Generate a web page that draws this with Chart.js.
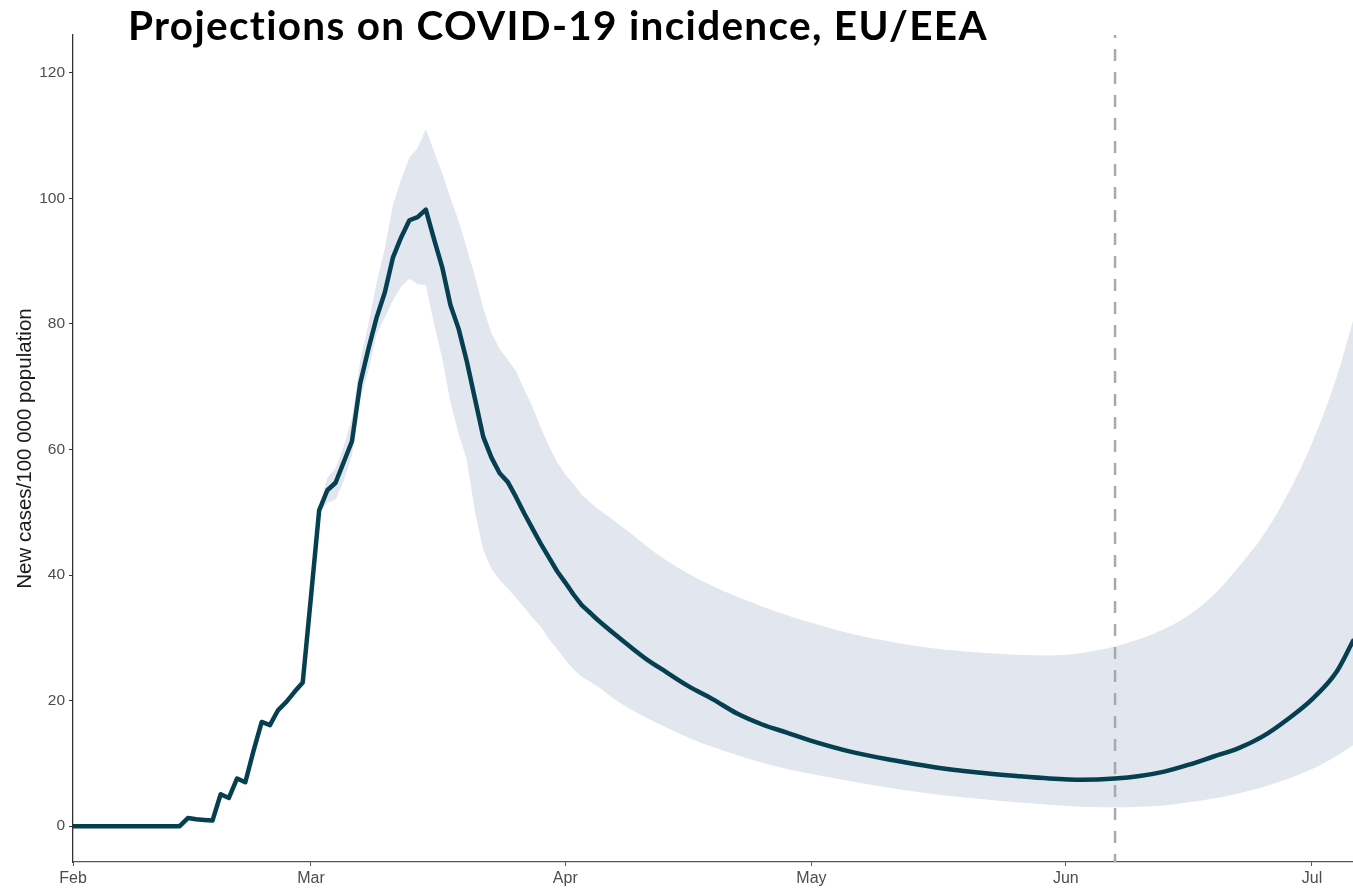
<!DOCTYPE html>
<html>
<head>
<meta charset="utf-8">
<script src="https://cdn.jsdelivr.net/npm/chart.js@4.4.1/dist/chart.umd.min.js"></script>
<style>
  html, body { margin: 0; padding: 0; background: #ffffff; }
  #wrap { position: relative; width: 1353px; height: 888px; }
  #title {
    position: absolute; left: 128px; top: 5px;
    font-family: Lato, "Open Sans", sans-serif; font-weight: 700; font-size: 40.5px;
    letter-spacing: 1.3px;
    line-height: 1; color: #000; white-space: nowrap; z-index: 2;
  }
</style>
</head>
<body>
<div id="wrap">
  <div id="title">Projections on COVID-19 incidence, EU/EEA</div>
  <canvas id="c"></canvas>
</div>
<script>
// ---- data (x = days since 1 Feb) ----
const observedDays = [0,1,2,3,4,5,6,7,8,9,10,11,12,13,14,15,16,17,18,19,20,21,22,23,24,25,26,27,28,29,30,31,32,33,34,35,36,37,38,39,40,41,42,43,44,45,46,47,48,49,50,51,52,53,54,55,56,57,58,59,60,61,62,63];
const observedCases = [0,0,0,0,0,0,0,0,0,0,0,0,0,0,
  1.3,1.1,1.0,0.9,
  5.1,4.5,7.6,7.0,12.0,16.6,16.1,18.5,19.8,21.4,22.9,
  36.5,50.3,53.5,54.7,58.0,61.3,
  70.5,76.0,81.0,85.0,90.6,93.8,96.5,97.0,98.2,
  93.5,89.0,83.0,79.2,74.0,68.0,62.0,58.7,56.2,54.8,52.4,49.8,47.4,45.0,42.8,40.6,38.8,36.9,35.2,34.0];

const bandObsDays = [29,30,31,32,33,34,35,36,37,38,39,40,41,42,43,44,45,46,47,48,49,50,51,52,53,54,55,56,57,58,59,60,61,62,63];
const bandObsUpper = [36.5,51.0,55.5,57.0,60.5,65.0,74.0,80.0,86.5,92.0,99.0,103.0,106.5,108.0,111.0,107.5,104.0,100.0,96.4,92.0,87.5,82.5,78.5,76.0,74.3,72.5,69.5,66.8,63.5,60.5,58.0,56.0,54.5,52.8,51.6];
const bandObsLower = [36.0,49.8,51.5,52.0,55.0,59.0,68.0,72.5,78.3,81.0,83.7,86.0,87.2,86.3,86.2,80.0,74.5,67.5,62.5,58.3,50.0,44.0,41.0,39.2,37.8,36.4,34.8,33.2,31.8,29.8,28.2,26.5,25.0,23.8,23.0];

const projDays = [63,64,66,68,70,72,75,78,81,84,87,90,95,100,105,110,115,119,123,127,130,133,136,139,142,145,148,151,154,156];
const projCases = [34.0,32.8,30.6,28.5,26.5,24.8,22.3,20.2,17.9,16.2,14.9,13.6,11.8,10.5,9.4,8.6,8.0,7.6,7.4,7.6,8.0,8.7,9.8,11.1,12.4,14.3,17.0,20.2,24.6,29.5];
const projUpper = [51.6,50.5,48.6,46.6,44.5,42.6,40.2,38.2,36.5,35.0,33.6,32.4,30.6,29.3,28.3,27.7,27.3,27.2,27.6,28.6,29.8,31.4,33.6,36.8,41.2,46.2,52.8,61.0,71.5,80.5];
const projLower = [23.0,22.2,20.2,18.6,17.2,15.9,14.1,12.6,11.3,10.1,9.1,8.3,7.1,6.0,5.1,4.4,3.8,3.4,3.1,3.0,3.1,3.3,3.8,4.4,5.2,6.2,7.5,9.1,11.2,12.9];

const cutoffDay = 127;            // vertical dashed line (7 Jun)
const monthTickDays = [0,29,60,90,121,151];
const monthTickLabels = ['Feb','Mar','Apr','May','Jun','Jul'];
const yTickValues = [0,20,40,60,80,100,120];

// ---- build ----
const pts = (xs, ys) => xs.map((x, i) => ({ x: x, y: ys[i] }));
const LINE = '#053f50';
const BAND = '#e1e6ef';

const datasets = [
  { label: 'observed', data: pts(observedDays, observedCases), borderColor: LINE, borderWidth: 4.5,
    pointRadius: 0, tension: 0, fill: false, order: 0, borderJoinStyle: 'round', borderCapStyle: 'round' },
  { label: 'projection', data: pts(projDays, projCases), borderColor: LINE, borderWidth: 4.5,
    pointRadius: 0, cubicInterpolationMode: 'monotone', fill: false, order: 0, borderCapStyle: 'round' },
  { label: 'cutoff', data: [{ x: cutoffDay, y: -10 }, { x: cutoffDay, y: 130 }], borderColor: '#a9a9a9',
    borderWidth: 2.5, borderDash: [12, 11], pointRadius: 0, fill: false, order: 1 },
  { label: 'upperObs', data: pts(bandObsDays, bandObsUpper), borderWidth: 0, borderColor: 'rgba(0,0,0,0)',
    backgroundColor: BAND, pointRadius: 0, tension: 0, fill: 4, order: 2 },
  { label: 'lowerObs', data: pts(bandObsDays, bandObsLower), borderWidth: 0, borderColor: 'rgba(0,0,0,0)',
    pointRadius: 0, tension: 0, fill: false, order: 3 },
  { label: 'upperProj', data: pts(projDays, projUpper), borderWidth: 0, borderColor: 'rgba(0,0,0,0)',
    backgroundColor: BAND, pointRadius: 0, cubicInterpolationMode: 'monotone', fill: 6, order: 2 },
  { label: 'lowerProj', data: pts(projDays, projLower), borderWidth: 0, borderColor: 'rgba(0,0,0,0)',
    pointRadius: 0, cubicInterpolationMode: 'monotone', fill: false, order: 3 }
];

new Chart(document.getElementById('c'), {
  type: 'line',
  data: { datasets: datasets },
  options: {
    responsive: true,
    maintainAspectRatio: false,
    animation: false,
    layout: { padding: { top: 35, right: 0, left: 0, bottom: 0 } },
    plugins: { legend: { display: false }, tooltip: { enabled: false }, title: { display: false } },
    scales: {
      x: {
        type: 'linear', min: 0, max: 156,
        afterBuildTicks: (s) => { s.ticks = monthTickDays.map(v => ({ value: v })); },
        afterFit: (s) => { s.height = 26; },
        ticks: {
          autoSkip: false, maxRotation: 0, padding: 3,
          color: '#4d4d4d', font: { family: '"Liberation Sans", Arial, sans-serif', size: 16 },
          callback: (v) => { const i = monthTickDays.indexOf(v); return i >= 0 ? monthTickLabels[i] : ''; }
        },
        grid: { drawOnChartArea: false, drawTicks: true, tickLength: 4, color: '#555555' },
        border: { display: true, color: '#555555', width: 1.3 }
      },
      y: {
        type: 'linear', min: -5.7, max: 126,
        afterBuildTicks: (s) => { s.ticks = yTickValues.map(v => ({ value: v })); },
        afterFit: (s) => { s.width = 73; },
        ticks: {
          padding: 4, color: '#4d4d4d',
          font: { family: '"Liberation Sans", Arial, sans-serif', size: 15.5 }
        },
        grid: { drawOnChartArea: false, drawTicks: true, tickLength: 4, color: '#333333' },
        border: { display: true, color: '#333333', width: 1.3 },
        title: {
          display: true, text: 'New cases/100 000 population', color: '#1a1a1a',
          font: { family: '"Liberation Sans", Arial, sans-serif', size: 20.5 },
          padding: { top: 13, bottom: 0 }
        }
      }
    }
  }
});
</script>
</body>
</html>
